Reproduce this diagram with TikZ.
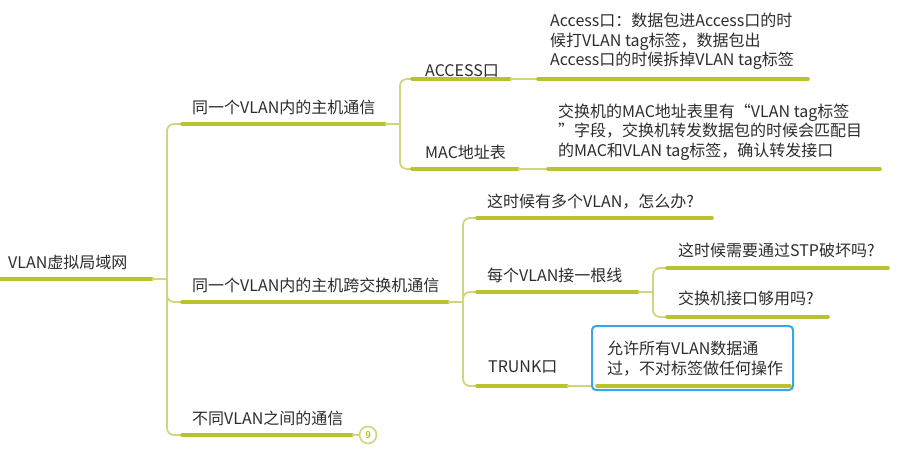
\documentclass[tikz,border=0pt]{standalone}
\usepackage{fontspec}
\newfontfamily\cjk{Noto Sans CJK SC}
\definecolor{thickc}{RGB}{186,194,48}
\definecolor{thinc}{RGB}{208,214,128}
\definecolor{txt}{RGB}{45,45,45}
\definecolor{boxc}{RGB}{56,166,232}
\tikzset{
  uline/.style={line width=3.6pt, color=thickc, line cap=round},
  link/.style={line width=1.8pt, color=thinc, rounded corners=7pt},
  lbl/.style={anchor=west, inner sep=0pt, text=txt, font=\cjk\fontsize{16}{19.7}\selectfont},
  note/.style={lbl, align=left}
}
\begin{document}
\begin{tikzpicture}[x=1pt,y=-1pt]
\useasboundingbox[fill=white] (0,0) rectangle (907,470);
% labels
\node[lbl] (root) at (8,262) {VLAN虚拟局域网};
\node[lbl] (b1) at (192,107) {同一个VLAN内的主机通信};
\node[lbl] (b2) at (192,285) {同一个VLAN内的主机跨交换机通信};
\node[lbl] (b3) at (192,418) {不同VLAN之间的通信};
\node[lbl] (acc) at (425,71) {ACCESS口};
\node[note] (accn) at (550,41.5) {Access口：数据包进Access口的时\\候打VLAN tag标签，数据包出\\Access口的时候拆掉VLAN tag标签};
\node[lbl] (mac) at (425,152) {MAC地址表};
\node[note] (macn) at (558,132) {交换机的MAC地址表里有“VLAN tag标签\\”字段，交换机转发数据包的时候会匹配目\\的MAC和VLAN tag标签，确认转发接口};
\node[lbl] (s1) at (487,202) {这时候有多个VLAN，怎么办?};
\node[lbl] (s2) at (487,275) {每个VLAN接一根线};
\node[lbl] (ss1) at (678,250) {这时候需要通过STP破坏吗?};
\node[lbl] (ss2) at (678,298) {交换机接口够用吗?};
\node[lbl] (trunk) at (488,367) {TRUNK口};
\node[draw=boxc, line width=2pt, rounded corners=4pt, minimum width=201pt, minimum height=64pt, inner sep=0pt] (tbox) at (692.5,358) {};
\node[note] (trunkn) at (607,358.5) {允许所有VLAN数据通\\过，不对标签做任何操作};
% junction coordinates
\coordinate (rj) at (167,279);
\coordinate (j1) at (400,124);
\coordinate (j2) at (463,302);
\coordinate (j3) at (653,292);
% root
\draw[uline] (0,279) -- (152,279);
\draw[link] (152,279) -- (rj);
\draw[link] (rj) -- (167,124) -- (182,124);
\draw[link] (rj) -- (167,302) -- (182,302);
\draw[link] (rj) -- (167,435) -- (182,435);
% branch 1
\draw[uline] (182,124) -- (385,124);
\draw[link] (385,124) -- (j1);
\draw[link] (j1) -- (400,79) -- (412,79);
\draw[link] (j1) -- (400,169) -- (412,169);
\draw[uline] (412,79) -- (510,79);
\draw[link] (510,79) -- (538,79);
\draw[uline] (538,79) -- (808,79);
\draw[uline] (412,169) -- (518,169);
\draw[link] (518,169) -- (548,169);
\draw[uline] (548,169) -- (880,169);
% branch 2
\draw[uline] (182,302) -- (448,302);
\draw[link] (448,302) -- (j2);
\draw[link] (j2) -- (463,218) -- (477,218);
\draw[link] (j2) -- (463,292) -- (477,292);
\draw[link] (j2) -- (463,386) -- (477,386);
\draw[uline] (477,218) -- (712,218);
\draw[uline] (477,292) -- (638,292);
\draw[link] (638,292) -- (j3);
\draw[link] (j3) -- (653,268) -- (667,268);
\draw[link] (j3) -- (653,317) -- (667,317);
\draw[uline] (667,268) -- (888,268);
\draw[uline] (667,317) -- (828,317);
\draw[uline] (477,386) -- (567,386);
\draw[link] (567,386) -- (tbox.west |- 0,386);
\draw[uline] (597,386) -- (790,386);
% branch 3
\draw[uline] (182,435) -- (352,435);
\node[circle, draw=thinc, line width=1.6pt, minimum size=17pt, inner sep=0pt, text=thickc, font=\sffamily\bfseries\fontsize{10}{10}\selectfont] (n9) at (368,435) {9};
\draw[link] (352,435) -- (n9.west);
\end{tikzpicture}
\end{document}
